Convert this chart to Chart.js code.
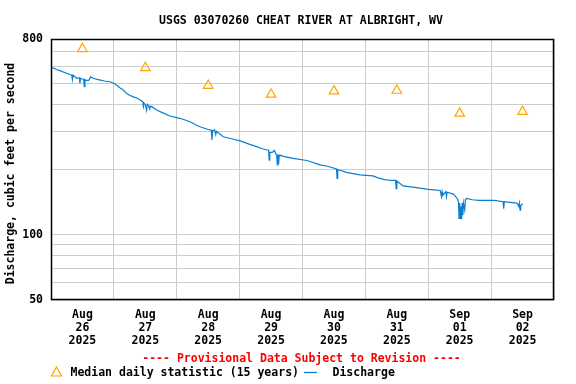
<!DOCTYPE html>
<html>
<head>
<meta charset="utf-8">
<script src="https://cdn.jsdelivr.net/npm/chart.js@4/dist/chart.umd.min.js"></script>
<style>
  html, body { margin: 0; padding: 0; background: #fff; }
  #wrap { width: 576px; height: 384px; }
</style>
</head>
<body>
<div id="wrap"><canvas id="hydro" width="576" height="384"></canvas></div>
<script>
// x values are days since Aug 26 2025 00:00
const months = ['Aug', 'Aug', 'Aug', 'Aug', 'Aug', 'Aug', 'Sep', 'Sep'];
const days = ['26', '27', '28', '29', '30', '31', '01', '02'];
const years = ['2025', '2025', '2025', '2025', '2025', '2025', '2025', '2025'];

// median daily statistic, plotted at noon of each day
const medianDays = [0.5, 1.5, 2.5, 3.5, 4.5, 5.5, 6.5, 7.5];
const medianValues = [721, 589, 488, 444, 460, 463, 363, 370];

// discharge, cubic feet per second
const dischargeDays = [
    0.00, 0.08, 0.15, 0.25, 0.33, 0.34, 0.35, 0.41, 0.45, 0.46, 0.47, 0.52, 0.53, 0.54, 0.55, 0.60, 0.63, 0.67,
    0.75, 0.85, 0.94, 1.02, 1.10, 1.15, 1.20, 1.25, 1.30, 1.38, 1.46, 1.47, 1.48, 1.50, 1.52, 1.53, 1.55, 1.57,
    1.58, 1.60, 1.68, 1.78, 1.89, 2.00, 2.10, 2.18, 2.26, 2.30, 2.37, 2.44, 2.50, 2.55, 2.56, 2.57, 2.60, 2.62,
    2.63, 2.74, 2.85, 3.01, 3.15, 3.27, 3.35, 3.43, 3.46, 3.47, 3.48, 3.52, 3.55, 3.59, 3.60, 3.61, 3.62, 3.63,
    3.64, 3.70, 3.85, 4.07, 4.28, 4.40, 4.54, 4.55, 4.56, 4.70, 4.91, 5.12, 5.20, 5.29, 5.40, 5.48, 5.49, 5.50,
    5.60, 5.75, 5.87, 6.00, 6.10, 6.19, 6.21, 6.22, 6.23, 6.28, 6.29, 6.30, 6.40, 6.46, 6.48, 6.49, 6.50, 6.51,
    6.52, 6.53, 6.54, 6.55, 6.56, 6.58, 6.59, 6.61, 6.70, 6.80, 6.93, 7.05, 7.19, 7.20, 7.21, 7.30, 7.41, 7.44,
    7.45, 7.46, 7.47, 7.50
];
const dischargeValues = [
    592, 580, 570, 556, 545, 520, 545, 527, 530, 500, 527, 520, 482, 520, 515, 515, 535, 527,
    520, 512, 508, 496, 475, 465, 449, 440, 434, 425, 411, 390, 405, 398, 375, 400, 395, 380,
    392, 390, 376, 365, 353, 347, 341, 335, 327, 322, 315, 310, 306, 304, 274, 300, 305, 290,
    300, 283, 278, 271, 262, 255, 250, 246, 246, 221, 240, 240, 245, 232, 210, 235, 212, 232,
    233, 230, 225, 220, 210, 207, 201, 182, 200, 194, 189, 187, 183, 180, 178, 178, 163, 177,
    168, 166, 164, 162, 161, 160, 150, 158, 152, 158, 150, 157, 154, 147, 142, 119, 140, 119,
    135, 118, 140, 123, 140, 130, 145, 147, 145, 144, 144, 144, 142, 132, 142, 141, 140, 135,
    140, 130, 136, 139
];

const yTickValues = [50, 60, 70, 80, 90, 100, 200, 300, 400, 500, 600, 700, 800];
const yTickLabels = [50, 100, 800];

const FONT = 'bold 11.5px "DejaVu Sans Mono"';
const tickFont = { family: 'DejaVu Sans Mono', size: 11.5, weight: 'bold', lineHeight: 13 / 11.5 };

const decor = {
    id: 'decor',
    afterDraw(chart) {
        const { ctx, chartArea: a } = chart;
        ctx.save();
        // frame
        ctx.strokeStyle = '#000';
        ctx.lineWidth = 1.5;
        ctx.strokeRect(Math.round(a.left) + 0.5, Math.round(a.top) + 0.5,
            Math.round(a.right - a.left) - 1, Math.round(a.bottom - a.top) - 1);

        ctx.font = FONT;
        ctx.textBaseline = 'middle';
        ctx.fillStyle = '#000';
        ctx.textAlign = 'center';
        ctx.fillText('USGS 03070260 CHEAT RIVER AT ALBRIGHT, WV', 301, 21);

        ctx.save();
        ctx.translate(11.5, 173.5);
        ctx.rotate(-Math.PI / 2);
        ctx.fillText('Discharge, cubic feet per second', 0, 0);
        ctx.restore();

        ctx.fillStyle = '#ff0000';
        ctx.fillText('---- Provisional Data Subject to Revision ----', 301.5, 359.5);

        // legend
        ctx.textAlign = 'left';
        ctx.fillStyle = '#000';
        ctx.fillText('Median daily statistic (15 years)', 70.5, 373.5);
        ctx.fillText('Discharge', 332.5, 373.5);
        ctx.strokeStyle = '#ffa500';
        ctx.lineWidth = 1.2;
        ctx.beginPath();
        ctx.moveTo(56.5, 367);
        ctx.lineTo(61.5, 376);
        ctx.lineTo(51.5, 376);
        ctx.closePath();
        ctx.stroke();
        ctx.strokeStyle = '#0a7fd0';
        ctx.lineWidth = 1.3;
        ctx.beginPath();
        ctx.moveTo(304, 372.5);
        ctx.lineTo(317, 372.5);
        ctx.stroke();
        ctx.restore();
    }
};

new Chart(document.getElementById('hydro'), {
    type: 'line',
    data: {
        datasets: [{
            label: 'Median daily statistic (15 years)',
            data: medianDays.map((d, i) => ({ x: d, y: medianValues[i] })),
            showLine: false,
            pointStyle: 'triangle',
            pointRadius: 5.5,
            pointHoverRadius: 5.5,
            pointBorderWidth: 1.2,
            pointBorderColor: '#ffa500',
            pointBackgroundColor: 'rgba(0,0,0,0)'
        }, {
            label: 'Discharge',
            data: dischargeDays.map((d, i) => ({ x: d, y: dischargeValues[i] })),
            borderColor: '#0a7fd0',
            borderWidth: 1.2,
            pointRadius: 0,
            tension: 0,
            fill: false
        }]
    },
    options: {
        responsive: false,
        animation: false,
        events: [],
        layout: { padding: { top: 39, right: 22, bottom: 0, left: 0 } },
        plugins: {
            legend: { display: false },
            tooltip: { enabled: false },
            title: { display: false }
        },
        scales: {
            x: {
                type: 'linear',
                min: 0,
                max: 8,
                afterFit: s => { s.height = 84; },
                afterBuildTicks: s => {
                    s.ticks = [];
                    for (let i = 0; i <= 16; i++) s.ticks.push({ value: i / 2 });
                },
                grid: {
                    drawTicks: false,
                    color: c => (c.tick && Number.isInteger(c.tick.value)) ? '#cccccc' : 'rgba(0,0,0,0)',
                    lineWidth: 1
                },
                border: { display: false },
                ticks: {
                    autoSkip: false,
                    maxRotation: 0,
                    padding: 9,
                    color: '#000',
                    font: tickFont,
                    callback: v => {
                        if (Number.isInteger(v)) return '';
                        const i = Math.floor(v);
                        return [months[i], days[i], years[i]];
                    }
                }
            },
            y: {
                type: 'logarithmic',
                min: 50,
                max: 800,
                afterFit: s => { s.width = 51; },
                afterBuildTicks: s => { s.ticks = yTickValues.map(v => ({ value: v })); },
                grid: { drawTicks: false, color: '#cccccc', lineWidth: 1 },
                border: { display: false },
                ticks: {
                    autoSkip: false,
                    padding: 8,
                    color: '#000',
                    font: tickFont,
                    callback: v => yTickLabels.includes(v) ? String(v) : ''
                }
            }
        }
    },
    plugins: [decor]
});
</script>
</body>
</html>
